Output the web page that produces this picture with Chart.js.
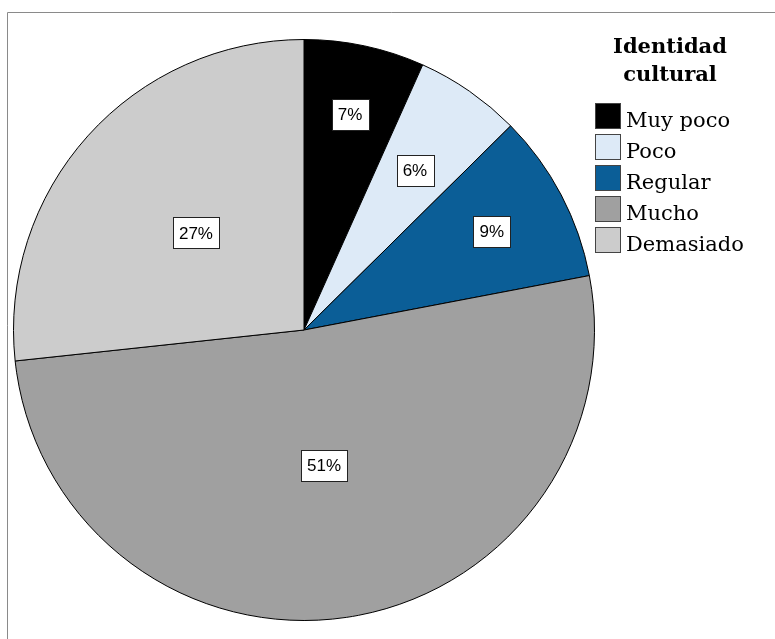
<!DOCTYPE html>
<html>
<head>
<meta charset="utf-8">
<script src="https://cdn.jsdelivr.net/npm/chart.js@4.4.0/dist/chart.umd.min.js"></script>
<style>
  html, body { margin: 0; padding: 0; background: #ffffff; }
  #wrap { width: 775px; height: 639px; }
</style>
</head>
<body>
<div id="wrap"><canvas id="pieChart" width="775" height="639"></canvas></div>
<script>
// data
var legendTitle = ['Identidad', 'cultural'];
var categories = ['Muy poco', 'Poco', 'Regular', 'Mucho', 'Demasiado'];
var percents = [6.7, 5.9, 9.4, 51.3, 26.7];
var sliceColors = ['#000000', '#ddeaf7', '#0b5e97', '#a0a0a0', '#cccccc'];

// how far out each percent box sits (fraction of radius)
var labelDist = [0.76, 0.67, 0.73, 0.47, 0.5];

const framePlugin = {
    id: 'frame',
    beforeDraw: (chart) => {
        const { ctx } = chart;
        ctx.save();
        ctx.fillStyle = '#ffffff';
        ctx.fillRect(0, 0, chart.width, chart.height);
        ctx.strokeStyle = '#8a8a8a';
        ctx.lineWidth = 1;
        ctx.beginPath();
        ctx.moveTo(7.5, chart.height);
        ctx.lineTo(7.5, 12.5);
        ctx.lineTo(chart.width, 12.5);
        ctx.stroke();
        ctx.restore();
    }
};

const boxLabels = {
    id: 'boxLabels',
    afterDatasetsDraw: (chart) => {
        const { ctx } = chart;
        const meta = chart.getDatasetMeta(0);
        ctx.save();
        ctx.font = '17px "Liberation Sans", Arial, sans-serif';
        ctx.textAlign = 'center';
        ctx.textBaseline = 'middle';
        meta.data.forEach((arc, i) => {
            const mid = (arc.startAngle + arc.endAngle) / 2;
            const r = arc.outerRadius * labelDist[i];
            const x = arc.x + Math.cos(mid) * r;
            const y = arc.y + Math.sin(mid) * r;
            const txt = Math.round(percents[i]) + '%';
            const w = ctx.measureText(txt).width + 12;
            const h = 31;
            ctx.fillStyle = '#ffffff';
            ctx.fillRect(Math.round(x - w / 2), Math.round(y - h / 2), Math.round(w), h);
            ctx.strokeStyle = '#222222';
            ctx.lineWidth = 1;
            ctx.strokeRect(Math.round(x - w / 2) + 0.5, Math.round(y - h / 2) + 0.5, Math.round(w), h);
            ctx.fillStyle = '#000000';
            ctx.fillText(txt, x, y + 1);
        });
        ctx.restore();
    }
};

const sideLegend = {
    id: 'sideLegend',
    afterDraw: (chart) => {
        const { ctx } = chart;
        ctx.save();
        ctx.fillStyle = '#000000';
        ctx.font = 'bold 21px "DejaVu Serif", serif';
        ctx.textAlign = 'center';
        ctx.textBaseline = 'alphabetic';
        legendTitle.forEach((t, i) => ctx.fillText(t, 670, 53 + i * 28));
        ctx.font = '21px "DejaVu Serif", serif';
        ctx.textAlign = 'left';
        categories.forEach((c, i) => {
            const base = 127 + i * 31;
            ctx.fillStyle = sliceColors[i];
            ctx.fillRect(595, base - 24, 26, 26);
            ctx.strokeStyle = '#444444';
            ctx.lineWidth = 1;
            ctx.strokeRect(595.5, base - 23.5, 25, 25);
            ctx.fillStyle = '#000000';
            ctx.fillText(c, 626, base);
        });
        ctx.restore();
    }
};

var config = {
    type: 'pie',
    data: {
        labels: categories,
        datasets: [{
            data: percents,
            backgroundColor: sliceColors,
            borderColor: '#000000',
            borderWidth: 1,
        }],
    },
    options: {
        responsive: false,
        animation: false,
        layout: { padding: { top: 39, bottom: 18, left: 13, right: 180 } },
        plugins: {
            legend: { display: false },
            tooltip: { enabled: false },
        },
    },
    plugins: [framePlugin, boxLabels, sideLegend],
};

let pieChart = new Chart(document.getElementById('pieChart'), config);
</script>
</body>
</html>
